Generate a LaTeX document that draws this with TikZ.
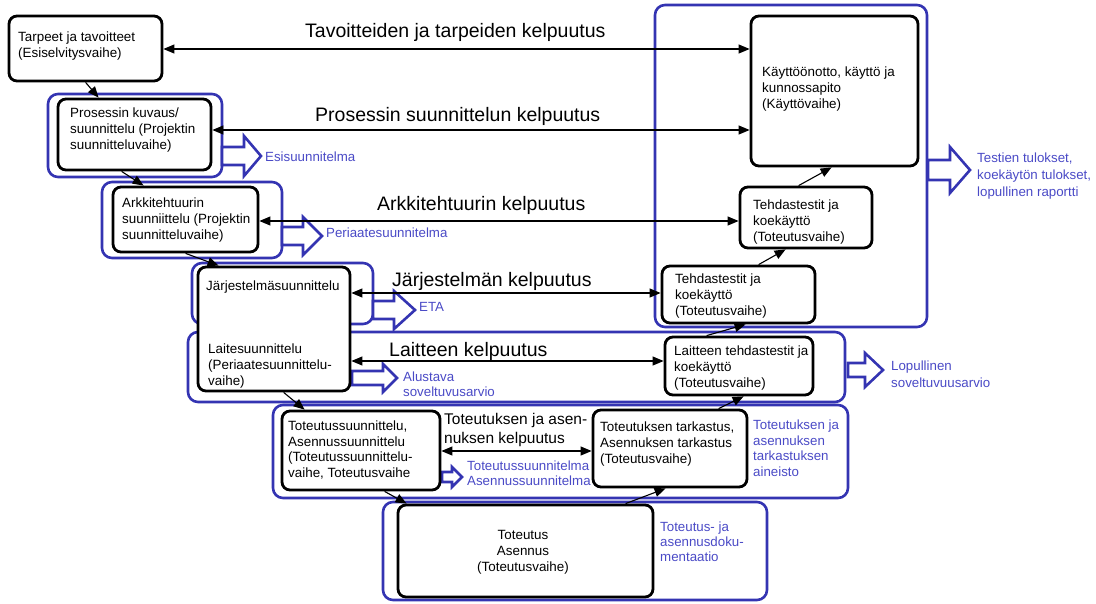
\documentclass[tikz,border=0pt]{standalone}
\usepackage{fontspec}
\setmainfont{Liberation Sans}
\usetikzlibrary{arrows.meta,fit}

\definecolor{frameblue}{RGB}{52,52,178}
\definecolor{noteblue}{RGB}{74,74,198}

\tikzset{
  phase/.style={draw=black, line width=2.8pt, fill=white, rounded corners=8pt, inner sep=0pt},
  group/.style={draw=frameblue, line width=2.6pt, rounded corners=10pt, inner sep=0pt},
  boxtext/.style={anchor=north west, inner sep=0pt, align=left, font=\fontsize{13.4}{16}\selectfont},
  note/.style={anchor=north west, inner sep=0pt, align=left, text=noteblue, font=\fontsize{13.3}{16}\selectfont},
  vlabel/.style={anchor=base west, inner sep=0pt, font=\fontsize{19.5}{23}\selectfont},
  link/.style={line width=1.1pt, -{Triangle[length=11pt,width=9pt]}},
  twoway/.style={line width=1.1pt, {Triangle[length=11pt,width=9pt]}-{Triangle[length=11pt,width=9pt]}},
  outarrow/.style={draw=frameblue, line width=2.6pt, fill=white, line join=miter},
}

% hollow block arrow: start x, head x, tip x, centre y, shaft half height, head half height
\newcommand\blockarrow[6]{%
  \draw[outarrow] (#1,#4-#5) -- (#2,#4-#5) -- (#2,#4-#6) -- (#3,#4)
    -- (#2,#4+#6) -- (#2,#4+#5) -- (#1,#4+#5) -- cycle;}

\begin{document}
\begin{tikzpicture}[x=1pt,y=-1pt]
\useasboundingbox (0,0) rectangle (1096,603);

% ---- grouping frames
\node[group, fit={(48,94) (222,177)}] (g1) {};
\node[group, fit={(102,182) (282,258)}] (g2) {};
\node[group, fit={(192,263) (373,324)}] (g3) {};
\node[group, fit={(188,332) (845,402)}] (g4) {};
\node[group, fit={(273,405) (848,498)}] (g5) {};
\node[group, fit={(383,502) (767,600)}] (g6) {};
\node[group, fit={(655,5) (927,327)}] (gR) {};

% ---- output arrows
\blockarrow{222}{244}{261}{156}{9}{20}
\blockarrow{282}{303}{322}{236}{9}{19}
\blockarrow{373}{394}{415}{310}{9}{19}
\blockarrow{352}{383}{397}{378}{7}{14}
\blockarrow{442}{452}{462}{477}{5}{10}
\blockarrow{848}{865}{883}{370}{7}{17}
\blockarrow{928}{950}{970}{170}{10}{23}

% ---- phase boxes
\node[phase, fit={(9,16) (162,81)}] (tarpeet) {};
\node[phase, fit={(58,99) (211,170)}] (pros) {};
\node[phase, fit={(113,187) (258,252)}] (arkk) {};
\node[phase, fit={(198,267) (350,391)}] (jarj) {};
\node[phase, fit={(282,411) (440,490)}] (totsuun) {};
\node[phase, fit={(398,505) (653,597)}] (toteutus) {};
\node[phase, fit={(593,410) (747,487)}] (tarkastus) {};
\node[phase, fit={(665,337) (813,395)}] (laitteen) {};
\node[phase, fit={(662,266) (815,323)}] (teh2) {};
\node[phase, fit={(740,187) (872,248)}] (teh1) {};
\node[phase, fit={(751,16) (918,166)}] (kaytto) {};

% ---- texts in the boxes
\node[boxtext] (t1) at (18,32) {Tarpeet ja tavoitteet\\(Esiselvitysvaihe)};
\node[boxtext] (t2) at (70,108) {Prosessin kuvaus/\\suunnittelu (Projektin\\suunnitteluvaihe)};
\node[boxtext] (t3) at (122,198) {Arkkitehtuurin\\suunniittelu (Projektin\\suunnitteluvaihe)};
\node[boxtext] (t4) at (206,281) {Järjestelmäsuunnittelu};
\node[boxtext] (t5) at (208,344) {Laitesuunnittelu\\(Periaatesuunnittelu-\\vaihe)};
\node[boxtext, font=\fontsize{13.4}{15.5}\selectfont] (t6) at (288,421) {Toteutussuunnittelu,\\Asennussuunnittelu\\(Toteutussuunnittelu-\\vaihe, Toteutusvaihe};
\node[boxtext, anchor=north, align=center] (t7) at (523,530) {Toteutus\\Asennus\\(Toteutusvaihe)};
\node[boxtext] (t8) at (600,422) {Toteutuksen tarkastus,\\Asennuksen tarkastus\\(Toteutusvaihe)};
\node[boxtext] (t9) at (674,346) {Laitteen tehdastestit ja\\koekäyttö\\(Toteutusvaihe)};
\node[boxtext] (t10) at (675,274) {Tehdastestit ja\\koekäyttö\\(Toteutusvaihe)};
\node[boxtext] (t11) at (753,200) {Tehdastestit ja\\koekäyttö\\(Toteutusvaihe)};
\node[boxtext] (t12) at (762,67) {Käyttöönotto, käyttö ja\\kunnossapito\\(Käyttövaihe)};

% ---- deliverables
\node[note] (n1) at (265,152) {Esisuunnitelma};
\node[note] (n2) at (326,228) {Periaatesuunnitelma};
\node[note] (n3) at (419,302) {ETA};
\node[note, font=\fontsize{13.3}{15}\selectfont] (n4) at (403,372) {Alustava\\soveltuvusarvio};
\node[note, font=\fontsize{13.3}{15}\selectfont] (n5) at (467,461) {Toteutussuunnitelma\\Asennussuunnitelma};
\node[note, font=\fontsize{13.3}{15.5}\selectfont] (n6) at (753,420) {Toteutuksen ja\\asennuksen\\tarkastuksen\\aineisto};
\node[note, font=\fontsize{13.3}{15}\selectfont] (n7) at (660,522) {Toteutus- ja\\asennusdoku-\\mentaatio};
\node[note, font=\fontsize{13.3}{17}\selectfont] (n8) at (891,361) {Lopullinen\\soveltuvuusarvio};
\node[note, font=\fontsize{13.3}{17}\selectfont] (n9) at (977,153) {Testien tulokset,\\koekäytön tulokset,\\lopullinen raportti};

% ---- validation arrows
\coordinate (r1) at (0,49);
\coordinate (r2) at (0,130);
\coordinate (r3) at (0,221);
\coordinate (r4) at (0,293);
\coordinate (r5) at (0,361);
\coordinate (r6) at (0,451);
\draw[twoway] (tarpeet.east |- r1) -- (kaytto.west |- r1);
\draw[twoway] (pros.east |- r2) -- (kaytto.west |- r2);
\draw[twoway] (arkk.east |- r3) -- (teh1.west |- r3);
\draw[twoway] (jarj.east |- r4) -- (teh2.west |- r4);
\draw[twoway] (jarj.east |- r5) -- (laitteen.west |- r5);
\draw[twoway] (totsuun.east |- r6) -- (tarkastus.west |- r6);

\node[vlabel] (v1) at (305,37.5) {Tavoitteiden ja tarpeiden kelpuutus};
\node[vlabel] (v2) at (315,121.5) {Prosessin suunnittelun kelpuutus};
\node[vlabel] (v3) at (377,210.5) {Arkkitehtuurin kelpuutus};
\node[vlabel] (v4) at (392,286) {Järjestelmän kelpuutus};
\node[vlabel] (v5) at (389,356.5) {Laitteen kelpuutus};
\node[anchor=north west, inner sep=0pt, align=left, font=\fontsize{15.5}{19}\selectfont] (v6) at (444,413) {Toteutuksen ja asen-\\nuksen kelpuutus};

% ---- phase sequence
\draw[link] ([xshift=78pt]tarpeet.south west) -- ([xshift=42pt]pros.north west);
\draw[link] ([xshift=65pt]pros.south west) -- ([xshift=32pt]arkk.north west);
\draw[link] ([xshift=74pt]arkk.south west) -- ([xshift=22pt]jarj.north west);
\draw[link] ([xshift=87pt]jarj.south west) -- ([xshift=24pt]totsuun.north west);
\draw[link] ([xshift=104pt]totsuun.south west) -- ([xshift=10pt]toteutus.north west);
\draw[link] ([xshift=229pt]toteutus.north west) -- ([xshift=74pt]tarkastus.south west);
\draw[link] ([xshift=127pt]tarkastus.north west) -- ([xshift=80pt]laitteen.south west);
\draw[link] ([xshift=43pt]laitteen.north west) -- ([xshift=85pt]teh2.south west);
\draw[link] ([xshift=98pt]teh2.north west) -- ([xshift=47pt]teh1.south west);
\draw[link] ([xshift=60pt]teh1.north west) -- ([xshift=82pt]kaytto.south west);
\end{tikzpicture}
\end{document}
